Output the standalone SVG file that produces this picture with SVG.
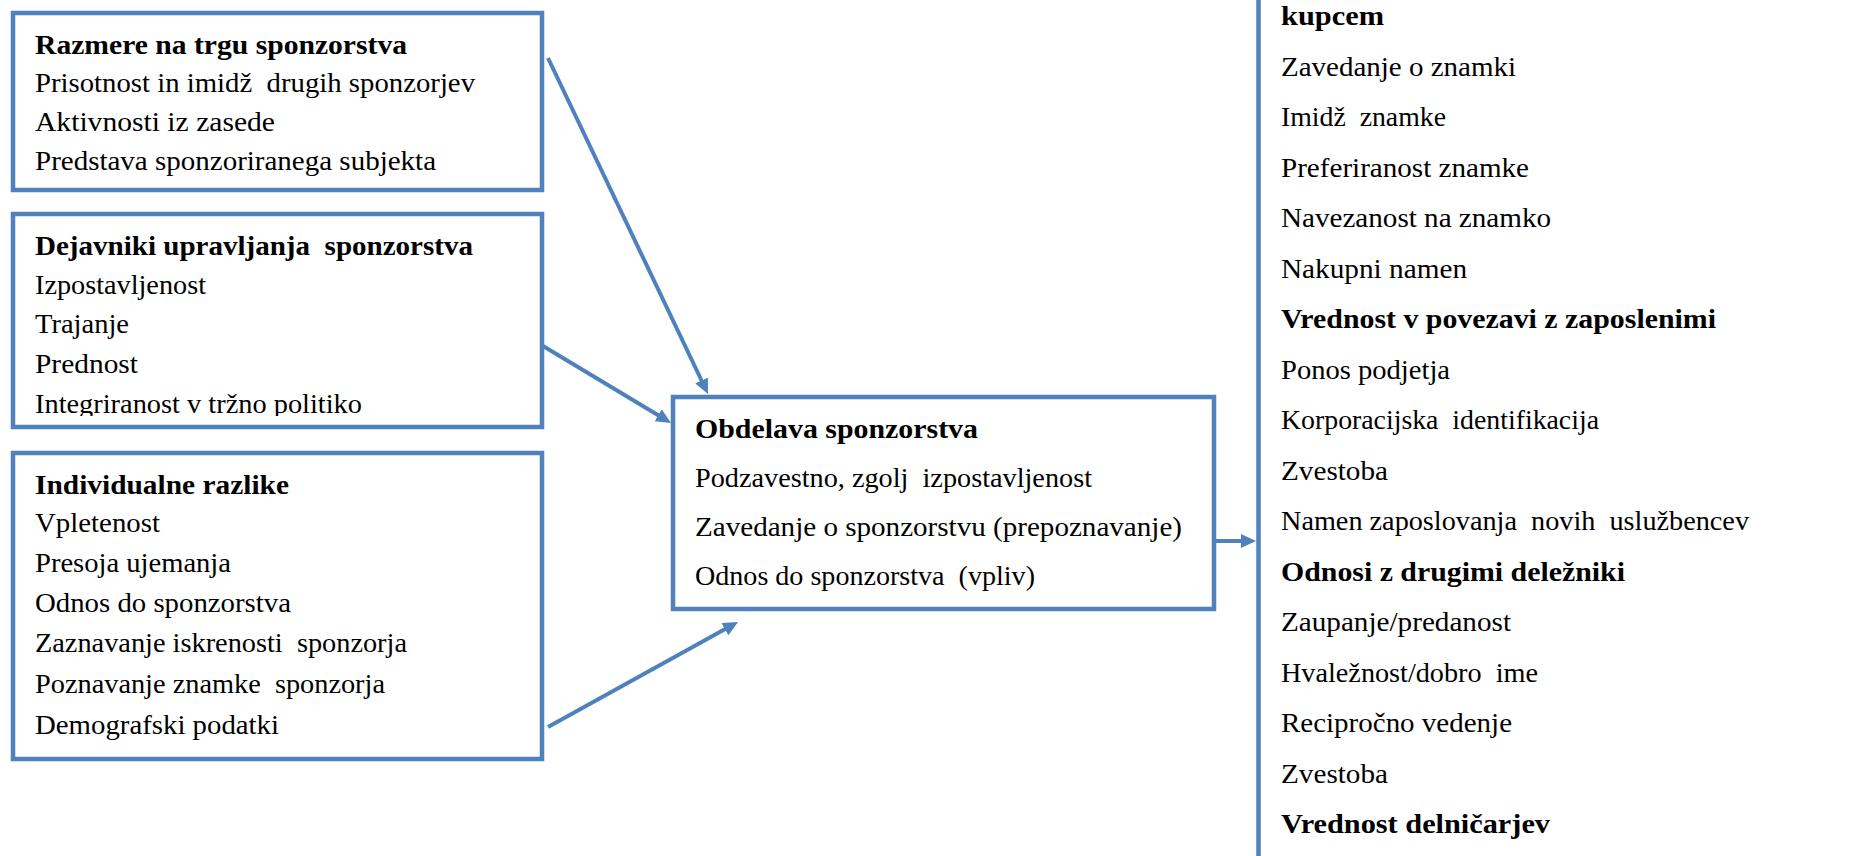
<svg xmlns="http://www.w3.org/2000/svg" width="1872" height="856" viewBox="0 0 1872 856">
<style>
.box{fill:#fff;stroke:#4F81BD;stroke-width:4.5}
.conn{stroke:#4F81BD;stroke-width:4;fill:none}
text{font-family:"Liberation Serif","Times New Roman",serif;font-size:28px;fill:#000;white-space:pre}
.b{font-weight:bold}
</style>
<defs>
<marker id="ah" markerUnits="userSpaceOnUse" markerWidth="15" markerHeight="14" refX="5" refY="7" orient="auto">
<path d="M0,0 L15,7 L0,14 z" fill="#4F81BD"/>
</marker>
<clipPath id="clip2"><rect x="15" y="216" width="525" height="200"/></clipPath>
</defs>
<rect width="1872" height="856" fill="#fff"/>
<g id="node-razmere">
<rect class="box" x="13" y="13" width="529" height="177"/>
<text class="b" x="35" y="54" textLength="372" lengthAdjust="spacingAndGlyphs">Razmere na trgu sponzorstva</text>
<text x="35" y="92" textLength="440" lengthAdjust="spacingAndGlyphs">Prisotnost in imidž  drugih sponzorjev</text>
<text x="35" y="131" textLength="240" lengthAdjust="spacingAndGlyphs">Aktivnosti iz zasede</text>
<text x="35" y="170" textLength="401" lengthAdjust="spacingAndGlyphs">Predstava sponzoriranega subjekta</text>
</g>
<g id="node-dejavniki">
<rect class="box" x="13" y="214" width="529" height="213"/>
<g clip-path="url(#clip2)">
<text class="b" x="35" y="255" textLength="438" lengthAdjust="spacingAndGlyphs">Dejavniki upravljanja  sponzorstva</text>
<text x="35" y="294" textLength="171" lengthAdjust="spacingAndGlyphs">Izpostavljenost</text>
<text x="35" y="333" textLength="94" lengthAdjust="spacingAndGlyphs">Trajanje</text>
<text x="35" y="373" textLength="103" lengthAdjust="spacingAndGlyphs">Prednost</text>
<text x="35" y="413" textLength="327" lengthAdjust="spacingAndGlyphs">Integriranost v tržno politiko</text>
</g>
</g>
<g id="node-individualne">
<rect class="box" x="13" y="453" width="529" height="306"/>
<text class="b" x="35" y="494" textLength="254" lengthAdjust="spacingAndGlyphs">Individualne razlike</text>
<text x="35" y="532" textLength="125" lengthAdjust="spacingAndGlyphs">Vpletenost</text>
<text x="35" y="572" textLength="196" lengthAdjust="spacingAndGlyphs">Presoja ujemanja</text>
<text x="35" y="612" textLength="256" lengthAdjust="spacingAndGlyphs">Odnos do sponzorstva</text>
<text x="35" y="652" textLength="372" lengthAdjust="spacingAndGlyphs">Zaznavanje iskrenosti  sponzorja</text>
<text x="35" y="693" textLength="350" lengthAdjust="spacingAndGlyphs">Poznavanje znamke  sponzorja</text>
<text x="35" y="734" textLength="244" lengthAdjust="spacingAndGlyphs">Demografski podatki</text>
</g>
<g id="node-obdelava">
<rect class="box" x="673" y="397" width="541" height="212"/>
<text class="b" x="695" y="438" textLength="283" lengthAdjust="spacingAndGlyphs">Obdelava sponzorstva</text>
<text x="695" y="487" textLength="397" lengthAdjust="spacingAndGlyphs">Podzavestno, zgolj  izpostavljenost</text>
<text x="695" y="536" textLength="487" lengthAdjust="spacingAndGlyphs">Zavedanje o sponzorstvu (prepoznavanje)</text>
<text x="695" y="585" textLength="340" lengthAdjust="spacingAndGlyphs">Odnos do sponzorstva  (vpliv)</text>
</g>
<g id="node-rezultati">
<line x1="1258.5" y1="0" x2="1258.5" y2="856" stroke="#4F81BD" stroke-width="4.5"/>
<text class="b" x="1281" y="25" textLength="103" lengthAdjust="spacingAndGlyphs">kupcem</text>
<text x="1281" y="75.5" textLength="235" lengthAdjust="spacingAndGlyphs">Zavedanje o znamki</text>
<text x="1281" y="126" textLength="165" lengthAdjust="spacingAndGlyphs">Imidž  znamke</text>
<text x="1281" y="176.5" textLength="248" lengthAdjust="spacingAndGlyphs">Preferiranost znamke</text>
<text x="1281" y="227" textLength="270" lengthAdjust="spacingAndGlyphs">Navezanost na znamko</text>
<text x="1281" y="277.5" textLength="186" lengthAdjust="spacingAndGlyphs">Nakupni namen</text>
<text class="b" x="1281" y="328" textLength="435" lengthAdjust="spacingAndGlyphs">Vrednost v povezavi z zaposlenimi</text>
<text x="1281" y="378.5" textLength="169" lengthAdjust="spacingAndGlyphs">Ponos podjetja</text>
<text x="1281" y="429" textLength="318" lengthAdjust="spacingAndGlyphs">Korporacijska  identifikacija</text>
<text x="1281" y="479.5" textLength="107" lengthAdjust="spacingAndGlyphs">Zvestoba</text>
<text x="1281" y="530" textLength="468" lengthAdjust="spacingAndGlyphs">Namen zaposlovanja  novih  uslužbencev</text>
<text class="b" x="1281" y="580.5" textLength="344" lengthAdjust="spacingAndGlyphs">Odnosi z drugimi deležniki</text>
<text x="1281" y="631" textLength="230" lengthAdjust="spacingAndGlyphs">Zaupanje/predanost</text>
<text x="1281" y="681.5" textLength="257" lengthAdjust="spacingAndGlyphs">Hvaležnost/dobro  ime</text>
<text x="1281" y="732" textLength="231" lengthAdjust="spacingAndGlyphs">Recipročno vedenje</text>
<text x="1281" y="782.5" textLength="107" lengthAdjust="spacingAndGlyphs">Zvestoba</text>
<text class="b" x="1281" y="833" textLength="269" lengthAdjust="spacingAndGlyphs">Vrednost delničarjev</text>
</g>
<g id="connectors">
<line class="conn" x1="548" y1="58" x2="703.7" y2="385" marker-end="url(#ah)"/>
<line class="conn" x1="543" y1="346" x2="662.4" y2="417.8" marker-end="url(#ah)"/>
<line class="conn" x1="548" y1="727" x2="729.3" y2="626.8" marker-end="url(#ah)"/>
<line class="conn" x1="1214" y1="541" x2="1246" y2="541" marker-end="url(#ah)"/>
</g>
</svg>
